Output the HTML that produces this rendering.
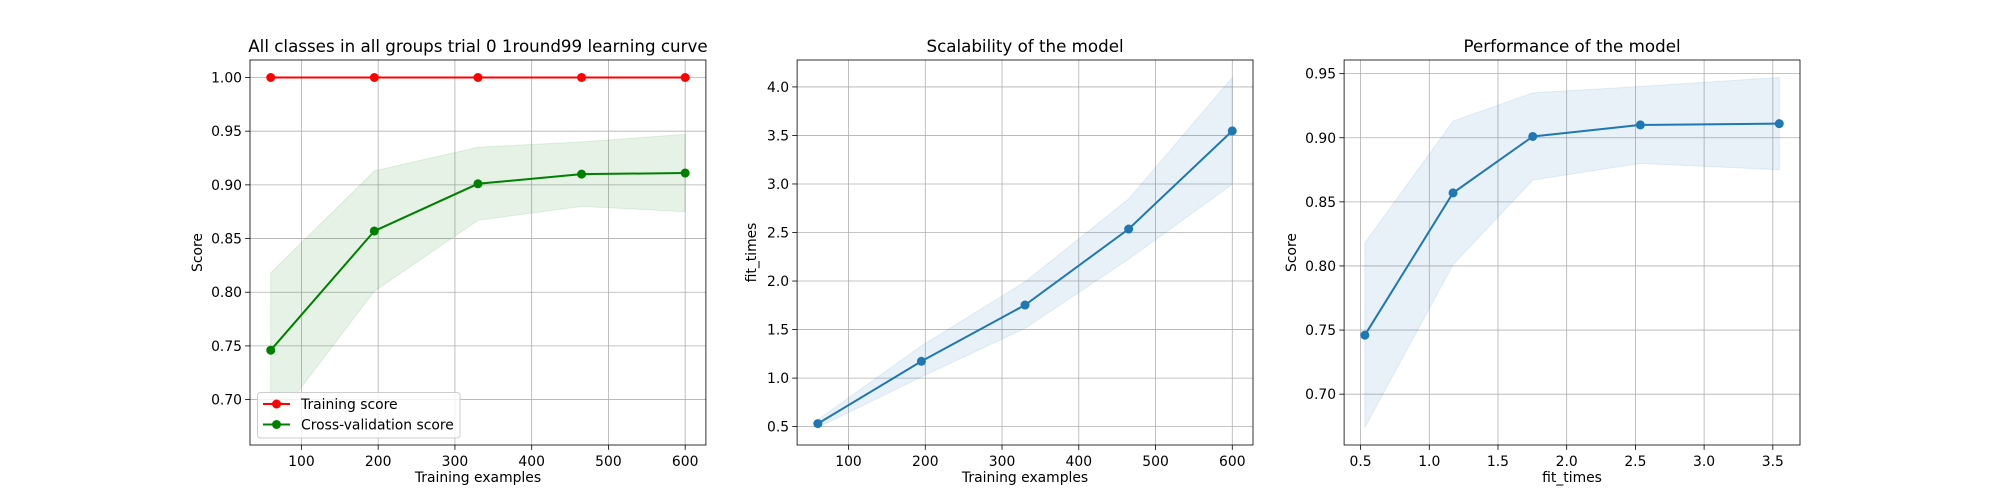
<!DOCTYPE html>
<html><head><meta charset="utf-8"><style>
html,body{margin:0;padding:0;background:#fff;width:2000px;height:500px;overflow:hidden}
svg text{font-family:"DejaVu Sans","Liberation Sans",sans-serif;font-size:13.9px;fill:#000}
</style></head><body>
<svg id="fig" width="2000" height="500" xmlns="http://www.w3.org/2000/svg"></svg>
<script>
const trainSizes = [60, 195, 330, 465, 600];
const trainMean = [1.0, 1.0, 1.0, 1.0, 1.0];
const trainStd = [0, 0, 0, 0, 0];
const testMean = [0.746, 0.857, 0.901, 0.910, 0.911];
const testStd = [0.072, 0.056, 0.034, 0.030, 0.036];
const fitMean = [0.531, 1.173, 1.753, 2.536, 3.547];
const fitStd = [0.04, 0.16, 0.24, 0.31, 0.55];
const xTicks1 = [100, 200, 300, 400, 500, 600];
const yTicks1 = [0.70, 0.75, 0.80, 0.85, 0.90, 0.95, 1.00];
const yTicks2 = [0.5, 1.0, 1.5, 2.0, 2.5, 3.0, 3.5, 4.0];
const xTicks3 = [0.5, 1.0, 1.5, 2.0, 2.5, 3.0, 3.5];
const yTicks3 = [0.70, 0.75, 0.80, 0.85, 0.90, 0.95];

const NS = "http://www.w3.org/2000/svg";
const svg = document.getElementById('fig');
function mk(tag, attrs, parent, text) {
  const e = document.createElementNS(NS, tag);
  for (const k in attrs) e.setAttribute(k, attrs[k]);
  if (text !== undefined) e.textContent = text;
  (parent || svg).appendChild(e);
  return e;
}
function pad(arr) { const mn = Math.min(...arr), mx = Math.max(...arr), r = mx - mn; return [mn - 0.05 * r, mx + 0.05 * r]; }
const TOP = 60, BOT = 445;

function axes(name, left, right, xlim, ylim, xt, yt, xfmt, yfmt, title, xlabel, ylabel, yoff) {
  const g = mk('g', {});
  
  
  const sx = v => left + (v - xlim[0]) / (xlim[1] - xlim[0]) * (right - left);
  const sy = v => BOT - (v - ylim[0]) / (ylim[1] - ylim[0]) * (BOT - TOP);
  xt.forEach(t => {
    const x = sx(t);
    const gl = mk('line', {x1: x, x2: x, y1: TOP, y2: BOT, stroke: '#b0b0b0', 'stroke-width': 0.8}, g);
    
    
    mk('line', {x1: x, x2: x, y1: BOT, y2: BOT + 4.9, stroke: '#000', 'stroke-width': 0.8}, g);
    const tl = mk('text', {x: x, y: BOT + 21, 'text-anchor': 'middle'}, g, xfmt(t));
    
    
  });
  yt.forEach(t => {
    const y = sy(t);
    const gl = mk('line', {x1: left, x2: right, y1: y, y2: y, stroke: '#b0b0b0', 'stroke-width': 0.8}, g);
    
    
    mk('line', {x1: left - 4.9, x2: left, y1: y, y2: y, stroke: '#000', 'stroke-width': 0.8}, g);
    const tl = mk('text', {x: left - 8, y: y + 5, 'text-anchor': 'end'}, g, yfmt(t));
    
    
  });
  const tt = mk('text', {x: (left + right) / 2, y: 52, 'text-anchor': 'middle', style: 'font-size:16.7px'}, g, title);
  
  
  const xl = mk('text', {x: (left + right) / 2, y: 482, 'text-anchor': 'middle'}, g, xlabel);
  
  
  const yl = mk('text', {x: 0, y: 0, 'text-anchor': 'middle', transform: `translate(${left - yoff},${(TOP + BOT) / 2}) rotate(-90)`}, g, ylabel);
  
  
  return {g, sx, sy, left, right};
}
function frame(ax) {
  const f = mk('rect', {x: ax.left, y: TOP, width: ax.right - ax.left, height: BOT - TOP, fill: 'none', stroke: '#000', 'stroke-width': 0.8}, ax.g);
  
  
}
function band(ax, xs, m, s, color, op, name) {
  let d = '';
  xs.forEach((x, i) => d += (i ? 'L' : 'M') + ax.sx(x) + ',' + ax.sy(m[i] + s[i]));
  for (let i = xs.length - 1; i >= 0; i--) d += 'L' + ax.sx(xs[i]) + ',' + ax.sy(m[i] - s[i]);
  const p = mk('path', {d: d + 'Z', fill: color, 'fill-opacity': op, stroke: color, 'stroke-opacity': op}, ax.g);
  
  
}
function line(ax, xs, ys, color, name) {
  const pts = xs.map((x, i) => ax.sx(x) + ',' + ax.sy(ys[i])).join(' ');
  const l = mk('polyline', {points: pts, fill: 'none', stroke: color, 'stroke-width': 2}, ax.g);
  
  
  xs.forEach((x, i) => {
    const c = mk('circle', {cx: ax.sx(x), cy: ax.sy(ys[i]), r: 4.5, fill: color}, ax.g);
    
    
  });
}
const f2 = v => v.toFixed(2), f1 = v => v.toFixed(1), f0 = v => String(v);

// Plot 1
const lo1 = testMean.map((m, i) => m - testStd[i]), hi1 = trainMean.map((m, i) => m + trainStd[i]);
const ax1 = axes('learning-curve-axes', 250, 705.9, pad(trainSizes), pad(lo1.concat(hi1)), xTicks1, yTicks1, f0, f2,
  'All classes in all groups trial 0 1round99 learning curve', 'Training examples', 'Score', 48);
band(ax1, trainSizes, trainMean, trainStd, '#ff0000', 0.1, 'training-score-band');
band(ax1, trainSizes, testMean, testStd, '#008000', 0.1, 'cv-score-band');
line(ax1, trainSizes, trainMean, '#ff0000', 'training-score');
line(ax1, trainSizes, testMean, '#008000', 'cv-score');
frame(ax1);
const lg = mk('g', {}, ax1.g);


mk('rect', {x: 257.5, y: 392.5, width: 202.5, height: 45.5, rx: 3, fill: '#fff', 'fill-opacity': 0.8, stroke: '#cccccc', 'stroke-width': 1}, lg);
[['Training score', '#ff0000', 404], ['Cross-validation score', '#008000', 424.5]].forEach(([t, c, y]) => {
  const e = mk('g', {}, lg);
  
  
  mk('line', {x1: 263, x2: 290, y1: y, y2: y, stroke: c, 'stroke-width': 2}, e);
  mk('circle', {cx: 276.5, cy: y, r: 4.5, fill: c}, e);
  mk('text', {x: 301, y: y + 5}, e, t);
});

// Plot 2
const ax2 = axes('scalability-axes', 797.1, 1253, pad(trainSizes),
  pad(fitMean.map((m, i) => m - fitStd[i]).concat(fitMean.map((m, i) => m + fitStd[i]))),
  xTicks1, yTicks2, f0, f1, 'Scalability of the model', 'Training examples', 'fit_times', 41);
band(ax2, trainSizes, fitMean, fitStd, '#1f77b4', 0.1, 'fit-time-band');
line(ax2, trainSizes, fitMean, '#1f77b4', 'fit-time');
frame(ax2);

// Plot 3
const ax3 = axes('performance-axes', 1344.1, 1800, pad(fitMean),
  pad(testMean.map((m, i) => m - testStd[i]).concat(testMean.map((m, i) => m + testStd[i]))),
  xTicks3, yTicks3, f1, f2, 'Performance of the model', 'fit_times', 'Score', 48);
band(ax3, fitMean, testMean, testStd, '#1f77b4', 0.1, 'performance-band');
line(ax3, fitMean, testMean, '#1f77b4', 'performance');
frame(ax3);
</script>
</body></html>
